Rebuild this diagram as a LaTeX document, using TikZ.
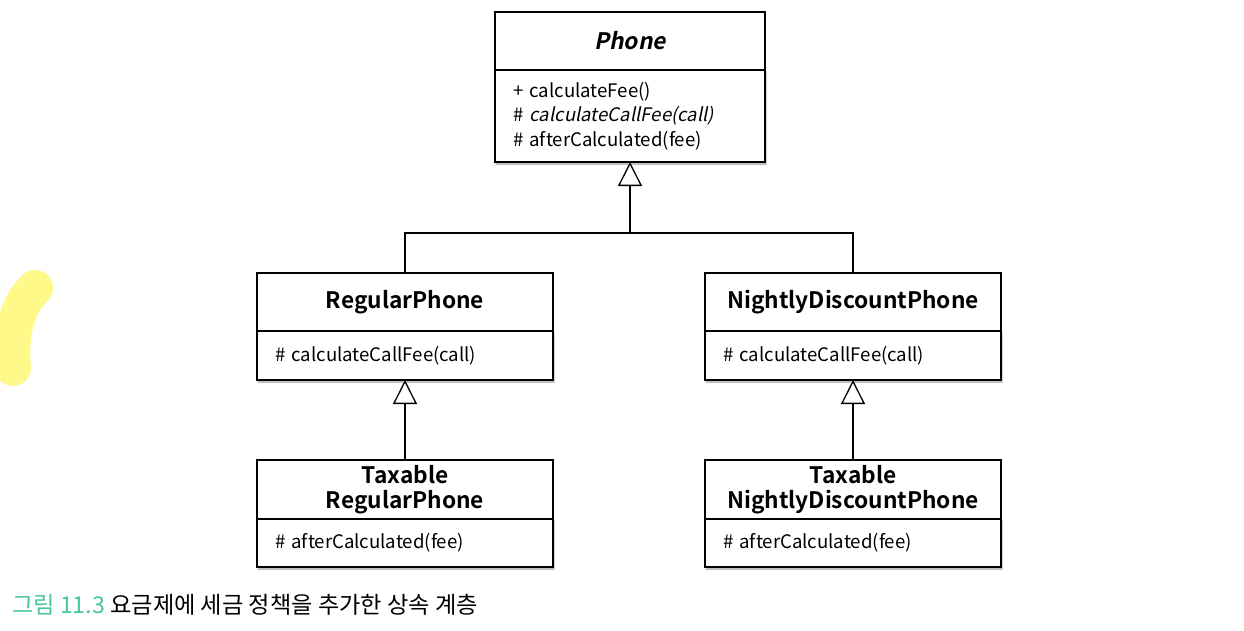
\documentclass[tikz,border=0pt]{standalone}
\usepackage{fontspec}
\setmainfont{Noto Sans CJK KR}[
    BoldFont={Noto Sans CJK KR Bold},
    ItalicFont={Noto Sans CJK KR}, ItalicFeatures={FakeSlant=0.2},
    BoldItalicFont={Noto Sans CJK KR Bold}, BoldItalicFeatures={FakeSlant=0.2}]
\newfontfamily\cjk{Noto Sans CJK KR}
\usepackage{tikz}
\usetikzlibrary{positioning, arrows.meta, shadows.blur}
\definecolor{capteal}{RGB}{72,196,160}
\definecolor{marker}{RGB}{255,249,138}
\tikzset{>=latex}
\tikzset{
    classname/.style={draw, line width=1.3pt, fill=white, inner sep=0pt, outer sep=0pt, align=center,
        minimum height=58pt, font=\bfseries\fontsize{22.7}{25.5}\selectfont},
    classops/.style={draw, line width=1.3pt, fill=white, inner xsep=18pt, inner ysep=0pt, outer sep=0pt,
        align=left, font=\fontsize{18.6}{24.5}\selectfont,
        blur shadow={shadow xshift=1pt, shadow yshift=-2pt, shadow blur radius=1.5pt, shadow opacity=35}},
    extends/.style={line width=1.3pt, -{Triangle[open, length=24pt, width=24pt, fill=white]}}
}

\begin{document}
\begin{tikzpicture}[x=1pt,y=-1pt]
    \useasboundingbox (0,0) rectangle (1244,630);
    % highlighter mark
    \draw[marker, line width=36pt, line cap=round] (35,288) .. controls (16,306) and (10,335) .. (13,368);

    \node[classops, minimum height=92pt, text width=234pt] (phoneops) at (630,116)
        {+ calculateFee()\\ \# \textit{calculateCallFee(call)}\\ \# afterCalculated(fee)};
    \node[classname, minimum width=270pt] (phone) [above=0pt of phoneops] {\itshape Phone};

    \node[classops, minimum height=49pt, text width=260pt] (regularops) at (405,355.5)
        {\# calculateCallFee(call)};
    \node[classname, minimum width=296pt] (regular) [above=0pt of regularops] {RegularPhone};

    \node[classops, minimum height=49pt, text width=260pt] (nightops) at (853,355.5)
        {\# calculateCallFee(call)};
    \node[classname, minimum width=296pt] (night) [above=0pt of nightops] {NightlyDiscountPhone};

    \node[classops, minimum height=48pt, text width=260pt] (taxregops) at (405,543)
        {\# afterCalculated(fee)};
    \node[classname, minimum width=296pt, minimum height=59pt] (taxreg) [above=0pt of taxregops] {Taxable\\RegularPhone};

    \node[classops, minimum height=48pt, text width=260pt] (taxnightops) at (853,543)
        {\# afterCalculated(fee)};
    \node[classname, minimum width=296pt, minimum height=59pt] (taxnight) [above=0pt of taxnightops] {Taxable\\NightlyDiscountPhone};

    \coordinate (branch) at (630,233);
    \draw[line width=1.3pt] (regular.north) |- (branch) -| (night.north);
    \draw[extends] (branch) -- (phoneops.south);
    \draw[extends] (taxreg.north) -- (regularops.south);
    \draw[extends] (taxnight.north) -- (nightops.south);

    \node[anchor=west, inner sep=0pt, font=\cjk\fontsize{23.2}{26}\selectfont] (caption) at (12,605)
        {\textcolor{capteal}{그림 11.3} 요금제에 세금 정책을 추가한 상속 계층};
\end{tikzpicture}
\end{document}
